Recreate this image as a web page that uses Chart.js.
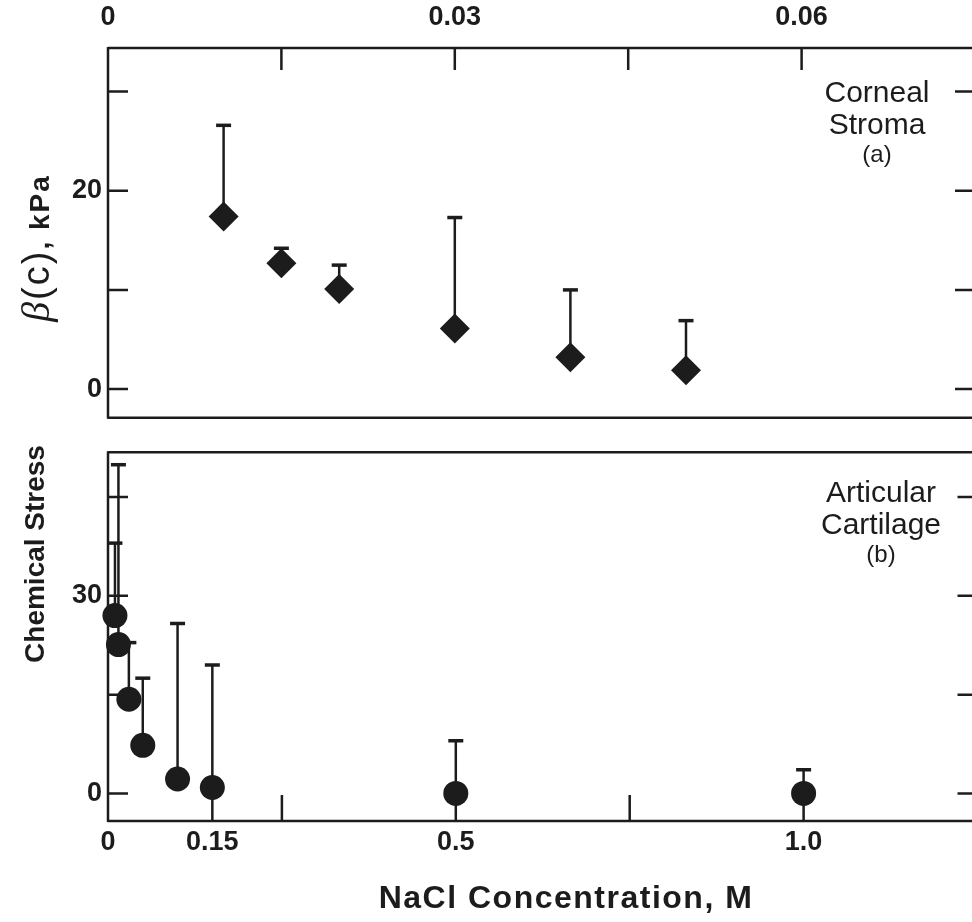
<!DOCTYPE html>
<html>
<head>
<meta charset="utf-8">
<script src="https://cdn.jsdelivr.net/npm/chart.js@4.4.1/dist/chart.umd.min.js"></script>
<style>
  html, body { margin: 0; padding: 0; background: #fff; overflow: hidden; width: 972px; height: 922px; }
  .box { position: absolute; left: 0; }
  #topBox { top: 0; width: 990px; height: 440px; }
  #botBox { top: 430px; width: 990px; height: 492px; }
  .ytitle { position: absolute; left: 35px; transform: translate(-50%, -50%) rotate(-90deg);
            white-space: nowrap; font: bold 28px 'Liberation Sans', Arial, sans-serif; color: #1c1c1c; }
  .xtitle { position: absolute; left: 566px; top: 897px; transform: translate(-50%, -50%);
            white-space: nowrap; font: bold 32px 'Liberation Sans', Arial, sans-serif; letter-spacing: 1.5px; color: #1c1c1c; }
  .note { position: absolute; transform: translateX(-50%); text-align: center; white-space: nowrap;
          font: 30px 'Liberation Sans', Arial, sans-serif; line-height: 32px; color: #1c1c1c; }
  .note small { font-size: 24px; line-height: 28px; display: block; }
</style>
</head>
<body>
<div class="box" id="topBox"><canvas id="topChart"></canvas></div>
<div class="box" id="botBox"><canvas id="botChart"></canvas></div>

<div class="ytitle" style="top:554px">Chemical Stress</div>
<div class="ytitle" style="top:248px;letter-spacing:2px"><span style="font-family:'Liberation Serif',serif;font-style:italic;font-weight:normal;font-size:40px">&beta;</span><span style="font-weight:normal;font-size:38px">(c)</span>,&nbsp;kPa</div>

<div class="xtitle">NaCl Concentration, M</div>

<div class="note" style="left:877px; top:76px">Corneal<br>Stroma<small>(a)</small></div>
<div class="note" style="left:881px; top:476px">Articular<br>Cartilage<small>(b)</small></div>

<script>
// corneal stroma (top panel), concentration on the 0-0.075 M scale
var topX = [0.01, 0.015, 0.02, 0.03, 0.04, 0.05];
var topY = [17.4, 12.7, 10.1, 6.1, 3.2, 1.9];
var topErr = [26.6, 14.2, 12.5, 17.3, 10.0, 6.9];

// articular cartilage (bottom panel), 0-1.25 M
var botX = [0.01, 0.015, 0.03, 0.05, 0.1, 0.15, 0.5, 1.0];
var botY = [27.0, 22.6, 14.3, 7.3, 2.2, 0.9, 0, 0];
var botErr = [38.0, 49.9, 22.9, 17.5, 25.8, 19.5, 8.0, 3.6];

// axes
var topXLabels = [0, 0.03, 0.06];
var topXText = ['0', '0.03', '0.06'];
var topXMarks = [0.015, 0.03, 0.045, 0.06];
var topYLabels = [0, 20];
var topYMarks = [0, 10, 20, 30];

var botXLabels = [0, 0.15, 0.5, 1.0];
var botXText = ['0', '0.15', '0.5', '1.0'];
var botXMarks = [0.15, 0.25, 0.5, 0.75, 1.0];
var botYLabels = [0, 30];
var botYMarks = [0, 15, 30, 45];

var ink = '#1c1c1c';
Chart.defaults.font.family = "'Liberation Sans', Arial, sans-serif";
Chart.defaults.color = ink;

// open frame, inward tick marks and one-sided error bars
var framePlugin = {
    id: 'frame',
    beforeDatasetsDraw: function (chart, args, opts) {
        var ctx = chart.ctx, a = chart.chartArea, sx = chart.scales.x, sy = chart.scales.y;
        ctx.save();
        ctx.strokeStyle = ink;
        ctx.lineWidth = 2.5;
        ctx.beginPath();
        ctx.moveTo(a.left, a.top); ctx.lineTo(a.right, a.top);
        ctx.moveTo(a.left, a.bottom); ctx.lineTo(a.right, a.bottom);
        ctx.moveTo(a.left, a.top - 1); ctx.lineTo(a.left, a.bottom + 1);
        opts.xMarks.forEach(function (v) {
            var px = sx.getPixelForValue(v);
            if (opts.xSide === 'top') { ctx.moveTo(px, a.top); ctx.lineTo(px, a.top + opts.xLen); }
            else { ctx.moveTo(px, a.bottom); ctx.lineTo(px, a.bottom - opts.xLen); }
        });
        opts.yMarks.forEach(function (v) {
            var py = sy.getPixelForValue(v);
            ctx.moveTo(a.left, py); ctx.lineTo(a.left + opts.yLen, py);
            ctx.moveTo(a.right, py); ctx.lineTo(a.right - opts.yLen, py);
        });
        ctx.stroke();

        chart.data.datasets.forEach(function (ds) {
            ds.upper.forEach(function (u, i) {
                var px = sx.getPixelForValue(ds.data[i].x);
                var p0 = sy.getPixelForValue(ds.data[i].y);
                var p1 = sy.getPixelForValue(u);
                ctx.lineWidth = 2.5;
                ctx.beginPath();
                ctx.moveTo(px, p0); ctx.lineTo(px, p1);
                ctx.stroke();
                ctx.lineWidth = 3.5;
                ctx.beginPath();
                ctx.moveTo(px - 7.5, p1); ctx.lineTo(px + 7.5, p1);
                ctx.stroke();
            });
        });
        ctx.restore();
    }
};

function points(xs, ys) {
    return xs.map(function (x, i) { return { x: x, y: ys[i] }; });
}

var tickFont = { size: 27, weight: 'bold' };

new Chart(document.getElementById('topChart'), {
    type: 'scatter',
    data: {
        datasets: [{
            label: 'Corneal Stroma',
            data: points(topX, topY),
            upper: topErr,
            pointStyle: 'rectRot',
            pointRadius: 15,
            backgroundColor: ink,
            borderWidth: 0,
            clip: false
        }]
    },
    options: {
        responsive: true,
        maintainAspectRatio: false,
        animation: false,
        layout: { padding: { left: 0, right: 10, top: 0, bottom: 17 } },
        plugins: {
            legend: { display: false },
            tooltip: { enabled: false },
            frame: { xMarks: topXMarks, xSide: 'top', xLen: 22, yMarks: topYMarks, yLen: 20 }
        },
        scales: {
            x: {
                type: 'linear', position: 'top', min: 0, max: 0.075,
                afterBuildTicks: function (s) { s.ticks = topXLabels.map(function (v) { return { value: v }; }); },
                afterFit: function (s) { s.height = 48; },
                grid: { display: false, drawTicks: false },
                border: { display: false },
                ticks: { autoSkip: false, maxRotation: 0, padding: 14, font: tickFont,
                         callback: function (v, i) { return topXText[i]; } }
            },
            y: {
                min: -2.9, max: 34.4,
                afterBuildTicks: function (s) { s.ticks = topYLabels.map(function (v) { return { value: v }; }); },
                afterFit: function (s) { s.width = 108; },
                grid: { display: false, drawTicks: false },
                border: { display: false },
                ticks: { padding: 6, font: tickFont, callback: function (v) { return String(v); } }
            }
        }
    },
    plugins: [framePlugin]
});

new Chart(document.getElementById('botChart'), {
    type: 'scatter',
    data: {
        datasets: [{
            label: 'Articular Cartilage',
            data: points(botX, botY),
            upper: botErr,
            pointStyle: 'circle',
            pointRadius: 12.5,
            backgroundColor: ink,
            borderWidth: 0,
            clip: false
        }]
    },
    options: {
        responsive: true,
        maintainAspectRatio: false,
        animation: false,
        layout: { padding: { left: 0, right: 10, top: 16, bottom: 0 } },
        plugins: {
            legend: { display: false },
            tooltip: { enabled: false },
            frame: { xMarks: botXMarks, xSide: 'bottom', xLen: 26, yMarks: botYMarks, yLen: 20 }
        },
        scales: {
            x: {
                type: 'linear', position: 'bottom', min: 0, max: 1.25,
                afterBuildTicks: function (s) { s.ticks = botXLabels.map(function (v) { return { value: v }; }); },
                afterFit: function (s) { s.height = 101; },
                grid: { display: false, drawTicks: false },
                border: { display: false },
                ticks: { autoSkip: false, maxRotation: 0, padding: 5, font: tickFont,
                         callback: function (v, i) { return botXText[i]; } }
            },
            y: {
                min: -4.18, max: 51.8,
                afterBuildTicks: function (s) { s.ticks = botYLabels.map(function (v) { return { value: v }; }); },
                afterFit: function (s) { s.width = 108; },
                grid: { display: false, drawTicks: false },
                border: { display: false },
                ticks: { padding: 6, font: tickFont, callback: function (v) { return String(v); } }
            }
        }
    },
    plugins: [framePlugin]
});
</script>
</body>
</html>
